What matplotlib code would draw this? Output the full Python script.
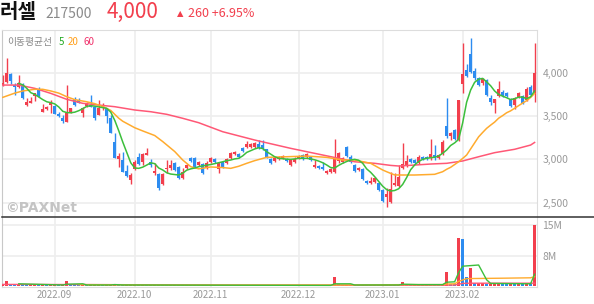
import matplotlib
matplotlib.use('Agg')
import matplotlib.pyplot as plt
from matplotlib.lines import Line2D
import numpy as np

plt.rcParams['font.family'] = ['Noto Sans CJK KR', 'DejaVu Sans']

# daily candles, 2022-08-12 .. 2023-02-27 (trading days only)
opens = [3855, 3893, 3985, 3858, 3835, 3858, 3627, 3654, 3731, 3801,
         3550, 3578, 3627, 3616, 3523, 3477, 3434, 3538, 3697, 3685,
         3535, 3616, 3627, 3608, 3512, 3604, 3581, 3474, 3200, 3004,
         2992, 2869, 2761, 2888, 3027, 2969, 3050, 2972, 2838, 2827,
         2715, 2885, 2900, 2957, 2911, 2784, 2900, 3015, 3015, 2934,
         2946, 2900, 2969, 3004, 2888, 2969, 2957, 3015, 3061, 3061,
         3131, 3142, 3142, 3142, 3177, 3170, 3119, 3004, 2981, 3004,
         3015, 3004, 2934, 2969, 3015, 3050, 3027, 3027, 2911, 2923,
         2911, 2842, 2853, 2853, 2981, 2969, 3142, 3027, 2934, 2877,
         2888, 2750, 2726, 2738, 2726, 2646, 2565, 2507, 2703, 2692,
         2900, 2923, 3004, 2992, 2957, 3027, 3027, 3015, 3050, 3015,
         3061, 3385, 3269, 3339, 3223, 3870, 4032, 4216, 4020, 3939,
         3881, 3916, 3708, 3650, 3731, 3777, 3766, 3697, 3627, 3720,
         3731, 3685, 3835, 3766]
highs = [3974, 4170, 4000, 3881, 3974, 3881, 3705, 3723, 3770, 3839,
         3639, 3616, 3685, 3627, 3550, 3512, 3858, 3596, 3720, 3705,
         3608, 3665, 3743, 3616, 3685, 3647, 3593, 3512, 3304, 3073,
         3088, 2934, 2845, 2992, 3073, 3073, 3134, 3004, 2954, 2842,
         2845, 2992, 2992, 2970, 2923, 2900, 2950, 3030, 3025, 2981,
         2957, 2981, 3030, 3015, 2969, 2981, 3015, 3084, 3096, 3073,
         3142, 3211, 3190, 3200, 3223, 3223, 3125, 3015, 3027, 3038,
         3050, 3015, 3004, 3027, 3050, 3061, 3073, 3038, 2992, 2934,
         2969, 2877, 2900, 3235, 3084, 3027, 3154, 3050, 2946, 2911,
         2900, 2761, 2796, 2796, 2738, 2657, 2669, 2853, 2842, 2934,
         3188, 3050, 3015, 3004, 3050, 3038, 3038, 3235, 3165, 3061,
         3223, 3708, 3316, 3350, 3690, 4343, 4100, 4401, 4055, 3950,
         3939, 3930, 3743, 3700, 3904, 3801, 3777, 3708, 3720, 3780,
         3743, 3830, 3858, 4343]
lows = [3850, 3885, 3870, 3743, 3824, 3700, 3620, 3650, 3677, 3725,
        3545, 3575, 3535, 3520, 3492, 3419, 3430, 3531, 3616, 3647,
        3492, 3608, 3600, 3454, 3508, 3570, 3423, 3305, 3010, 2911,
        2850, 2800, 2715, 2877, 2934, 2934, 3046, 2915, 2819, 2646,
        2705, 2838, 2877, 2865, 2775, 2775, 2890, 2970, 2900, 2923,
        2830, 2888, 2960, 2960, 2842, 2900, 2950, 3004, 3055, 3020,
        3090, 3131, 3135, 3135, 3125, 3108, 3015, 2946, 2970, 2995,
        3004, 2970, 2923, 2957, 3004, 2992, 3015, 2981, 2900, 2888,
        2877, 2830, 2842, 2842, 2957, 2960, 3027, 2957, 2853, 2865,
        2761, 2715, 2715, 2726, 2634, 2507, 2449, 2500, 2692, 2685,
        2890, 2911, 2957, 2946, 2946, 2992, 2992, 2992, 2992, 3004,
        3050, 3246, 3223, 3225, 3211, 3766, 3950, 4000, 3916, 3850,
        3858, 3735, 3627, 3535, 3720, 3720, 3720, 3605, 3581, 3708,
        3639, 3673, 3730, 3662]
closes = [3878, 3997, 3904, 3839, 3881, 3708, 3658, 3677, 3766, 3731,
          3578, 3608, 3650, 3523, 3500, 3446, 3538, 3593, 3627, 3654,
          3593, 3650, 3604, 3474, 3593, 3627, 3500, 3307, 3015, 3038,
          2857, 2807, 2819, 2972, 2946, 3061, 3076, 2934, 2868, 2665,
          2830, 2903, 2934, 2877, 2784, 2853, 2934, 2981, 2911, 2969,
          2842, 2957, 3015, 2969, 2957, 2911, 3004, 3073, 3084, 3027,
          3096, 3177, 3177, 3188, 3131, 3119, 3027, 2957, 3015, 3027,
          3038, 2981, 2992, 3004, 3038, 3004, 3061, 2992, 2934, 2900,
          2888, 2865, 2888, 3004, 3073, 3015, 3038, 2969, 2865, 2900,
          2773, 2726, 2750, 2784, 2646, 2519, 2599, 2657, 2726, 2796,
          2946, 2981, 2969, 2957, 3027, 3004, 3004, 3061, 3015, 3050,
          3200, 3269, 3304, 3235, 3685, 3985, 3962, 4008, 3939, 3858,
          3927, 3743, 3662, 3697, 3812, 3731, 3731, 3616, 3708, 3766,
          3650, 3812, 3740, 4000]
# volume in millions of shares
volumes = [0.5, 1.3, 0.6, 0.4, 0.5, 0.4, 0.3, 0.3, 0.4, 0.3,
           0.3, 0.2, 0.3, 0.3, 0.2, 0.3, 1.3, 0.5, 0.4, 0.3,
           0.3, 0.2, 0.3, 0.3, 0.3, 0.2, 0.3, 0.4, 0.5, 0.4,
           0.3, 0.3, 0.3, 0.3, 0.2, 0.3, 0.2, 0.2, 0.3, 0.4,
           0.3, 0.2, 0.2, 0.2, 0.3, 0.2, 0.2, 0.2, 0.2, 0.2,
           0.2, 0.2, 0.2, 0.2, 0.2, 0.2, 0.2, 0.2, 0.2, 0.2,
           0.2, 0.2, 0.2, 0.2, 0.2, 0.2, 0.2, 0.2, 0.2, 0.2,
           0.2, 0.2, 0.2, 0.2, 0.2, 0.2, 0.2, 0.2, 0.2, 0.2,
           0.2, 0.2, 0.2, 2.2, 0.5, 0.4, 0.4, 0.2, 0.2, 0.2,
           0.2, 0.2, 0.2, 0.2, 0.2, 0.3, 0.3, 0.5, 0.3, 0.3,
           1.0, 0.5, 0.3, 0.3, 0.3, 0.3, 0.3, 0.5, 0.3, 0.2,
           0.5, 3.5, 0.6, 0.5, 12.0, 11.8, 2.2, 4.5, 0.7, 0.7,
           0.7, 0.6, 0.6, 0.7, 0.8, 0.6, 0.5, 0.6, 0.5, 0.6,
           0.5, 0.7, 0.5, 15.3]

month_pos = [13, 33, 52, 74, 95, 115]
month_labels = ['2022.09', '2022.10', '2022.11', '2022.12', '2023.01', '2023.02']

# moving average lines (candle index, price)
ma5_idx = list(range(4, 134))
ma5_val = [3878, 3860, 3820, 3770, 3750, 3720, 3690, 3665, 3655, 3640,
           3605, 3555, 3540, 3538, 3545, 3562, 3585, 3612, 3620, 3614,
           3606, 3597, 3589, 3545, 3450, 3330, 3200, 3080, 2960, 2900,
           2896, 2910, 2934, 2960, 2950, 2900, 2877, 2845, 2830, 2825,
           2819, 2840, 2875, 2890, 2900, 2915, 2925, 2932, 2940, 2950,
           2961, 2972, 2985, 2992, 3005, 3012, 3040, 3080, 3100, 3120,
           3134, 3125, 3088, 3060, 3030, 3012, 3008, 3002, 3000, 3005,
           3012, 3012, 3012, 3005, 2995, 2980, 2961, 2935, 2905, 2900,
           2930, 2955, 2975, 2992, 3000, 2990, 2955, 2890, 2850, 2800,
           2745, 2690, 2650, 2634, 2640, 2660, 2710, 2790, 2880, 2935,
           2975, 3000, 3012, 3018, 3025, 3038, 3070, 3108, 3160, 3190,
           3230, 3420, 3660, 3800, 3890, 3925, 3935, 3895, 3850, 3790,
           3750, 3730, 3712, 3690, 3700, 3718, 3720, 3700, 3723, 3790]
ma20_idx = [0, 3, 5, 8, 10, 12, 14, 16, 18, 21, 23, 25, 27, 29, 30, 33, 35, 38,
            40, 43, 45, 47, 49, 52, 55, 57, 59, 61, 63, 66, 71, 76, 81, 85, 88,
            92, 95, 96, 97, 98, 100, 103, 108, 110, 111, 112, 113, 114, 115,
            116, 117, 118, 119, 120, 121, 122, 123, 124, 125, 126, 127, 128,
            129, 130, 131, 132, 133]
ma20_val = [3716, 3765, 3790, 3809, 3809, 3790, 3765, 3723, 3690, 3665, 3643,
            3610, 3565, 3475, 3440, 3365, 3328, 3275, 3205, 3090, 2992, 2915,
            2890, 2912, 2905, 2896, 2920, 2954, 2985, 3023, 3030, 3038, 3023,
            2992, 2992, 2954, 2877, 2857, 2838, 2820, 2819, 2819, 2827, 2857,
            2885, 2908, 2940, 2972, 3010, 3050, 3120, 3190, 3260, 3310, 3358,
            3395, 3430, 3475, 3505, 3538, 3560, 3590, 3620, 3650, 3677, 3715,
            3762]
ma60_idx = [0, 4, 8, 12, 16, 20, 24, 28, 33, 37, 41, 45, 49, 55, 63, 72, 80,
            84, 88, 93, 97, 99, 103, 107, 111, 115, 119, 123, 128, 132, 133]
ma60_val = [3858, 3858, 3820, 3762, 3693, 3647, 3627, 3608, 3570, 3550, 3520,
            3474, 3423, 3319, 3223, 3127, 3050, 3012, 2972, 2954, 2930, 2923,
            2934, 2946, 2954, 2981, 3030, 3077, 3116, 3165, 3195]

vma5_idx = [4, 15, 16, 20, 21, 27, 28, 30, 82, 83, 87, 88, 99, 100, 104, 110,
            111, 113, 114, 115, 119, 121, 122, 132, 133]
vma5_val = [0.6, 0.3, 0.5, 0.6, 0.3, 0.3, 0.4, 0.3, 0.2, 0.6, 0.6, 0.3, 0.3,
            0.5, 0.4, 0.4, 1.0, 1.1, 3.4, 5.0, 5.3, 1.6, 0.7, 0.6, 3.0]
vma20_idx = [19, 40, 83, 102, 110, 111, 113, 114, 116, 125, 132, 133]
vma20_val = [0.4, 0.3, 0.3, 0.4, 0.4, 0.55, 0.6, 1.2, 1.9, 2.0, 2.1, 2.4]
vma60_idx = [0, 25, 60, 110, 113, 114, 115, 117, 133]
vma60_val = [0.45, 0.4, 0.25, 0.25, 0.3, 0.5, 0.7, 0.75, 0.75]

RED = '#f23f4d'
BLUE = '#2d8cf0'
GREEN = '#3cbf3c'
ORANGE = '#ffab2e'
PINK = '#ff5876'
GRID = '#eeeeee'
TXT = '#999999'

W, H = 594, 304
fig = plt.figure(figsize=(W / 100, H / 100), dpi=100)
ax = fig.add_axes([2 / W, 87 / H, 535 / W, 187 / H])
axv = fig.add_axes([2 / W, 17 / H, 535 / W, 70 / H], sharex=ax)

x = np.arange(len(closes))
o = np.array(opens)
c = np.array(closes)
cols = [RED if cc >= oo else BLUE for oo, cc in zip(o, c)]
bottoms = np.minimum(o, c)
heights = np.maximum(np.abs(c - o), 10)

ax.vlines(x, lows, highs, colors=cols, linewidth=1, zorder=3)
ax.bar(x, heights, 0.75, bottom=bottoms, color=cols, zorder=3)
ax.plot(ma60_idx, ma60_val, color=PINK, lw=1.1, zorder=4)
ax.plot(ma20_idx, ma20_val, color=ORANGE, lw=1.1, zorder=4)
ax.plot(ma5_idx, ma5_val, color=GREEN, lw=1.1, zorder=5)

ax.set_xlim(-0.2, 133.6)
ax.set_ylim(2334, 4494)
ax.set_yticks([2500, 3000, 3500, 4000])
ax.set_yticklabels(['{:,}'.format(v) for v in [2500, 3000, 3500, 4000]])
ax.set_xticks(month_pos)
ax.grid(color=GRID, lw=1.2, zorder=0)
ax.yaxis.tick_right()
ax.tick_params(length=0, pad=4, labelsize=7.5, labelcolor=TXT)
ax.tick_params(axis='x', labelbottom=False)
for s in ['top', 'right']:
    ax.spines[s].set_color('#dddddd')
ax.spines['left'].set_color('#c8c8c8')
ax.spines['bottom'].set_visible(False)

# volume
v = np.array(volumes)
vcols = [RED] + [RED if v[i] >= v[i - 1] else BLUE for i in range(1, len(v))]
axv.bar(x, v, 0.75, color=vcols, zorder=3)
axv.plot(vma60_idx, vma60_val, color=PINK, lw=1.0, zorder=4)
axv.plot(vma20_idx, vma20_val, color=ORANGE, lw=1.0, zorder=4)
axv.plot(vma5_idx, vma5_val, color=GREEN, lw=1.0, zorder=5)
axv.set_ylim(-0.2, 17.3)
axv.set_yticks([7.65, 15.3])
axv.set_yticklabels(['8M', '15M'])
axv.set_xticks(month_pos)
axv.set_xticklabels(month_labels)
axv.grid(color=GRID, lw=1.2, zorder=0)
axv.yaxis.tick_right()
axv.tick_params(length=0, pad=4, labelsize=7.5, labelcolor=TXT)
axv.tick_params(axis='x', pad=2, labelsize=7)
axv.spines['top'].set_visible(False)
axv.spines['left'].set_color('#c8c8c8')
for s in ['right', 'bottom']:
    axv.spines[s].set_color('#dddddd')

fig.add_artist(Line2D([2 / W, 1], [87 / H, 87 / H], color='#333333', lw=1.1))

# header
def px(xp, yp):
    return xp / W, 1 - yp / H

fig.text(*px(0, 18), '러셀', fontsize=14.5, fontweight='bold', color='#111111', va='baseline')
fig.text(*px(45, 18), '217500', fontsize=10, color='#8a8a8a', va='baseline')
fig.text(*px(107, 18), '4,000', fontsize=15, color=RED, va='baseline')
fig.text(*px(177, 16), '▲', fontsize=6, color=RED, va='baseline', family='DejaVu Sans')
fig.text(*px(188, 17), '260 +6.95%', fontsize=9, color=RED, va='baseline')

fig.text(*px(7, 45), '이동평균선', fontsize=7, color='#888888', va='baseline')
fig.text(*px(59, 45), '5', fontsize=7, color='#22aa22', va='baseline')
fig.text(*px(68, 45), '20', fontsize=7, color='#ff9f1a', va='baseline')
fig.text(*px(83, 45), '60', fontsize=7, color='#f0306a', va='baseline')

fig.text(*px(5, 212), '©PAXNet', fontsize=10, fontweight='bold', color='#c4c4c4',
         va='baseline', family='DejaVu Sans')

fig.savefig('out.png', dpi=100)
